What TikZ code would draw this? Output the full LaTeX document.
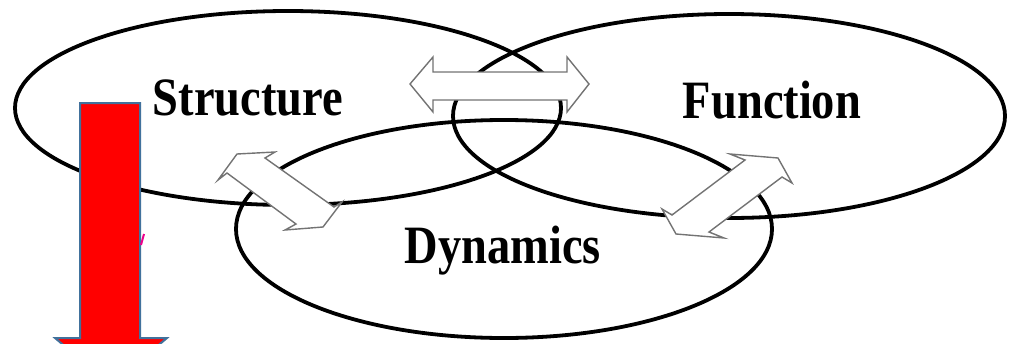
\documentclass[tikz,border=0pt]{standalone}
\usepackage{fontspec}
\setmainfont{Liberation Serif}
\usetikzlibrary{shapes.geometric}
\definecolor{edgeblue}{RGB}{65,113,156}
\definecolor{arrowgray}{RGB}{115,115,115}
\begin{document}
\begin{tikzpicture}[x=1pt,y=-1pt,
  ring/.style={draw=black, line width=3.8pt, ellipse, inner sep=0pt, outer sep=0pt},
  lbl/.style={font=\fontsize{54}{54}\selectfont\bfseries, anchor=base, inner sep=0pt, xscale=0.86},
  hollow/.style={draw=arrowgray, fill=white, line width=1.4pt, line join=miter},
  bar/.style={fill=red, draw=edgeblue, line width=2pt, line join=miter},
]
\useasboundingbox (0,0) rectangle (1009,343);
% three ellipses
\node[ring, minimum width=546pt, minimum height=194pt] (S) at (288,108) {};
\node[ring, minimum width=552pt, minimum height=204pt] (F) at (729,116) {};
\node[ring, minimum width=536pt, minimum height=218pt] (D) at (504,229) {};
% hollow double arrows
\draw[hollow] (410,84) -- (433,57) -- (433,72) -- (567,72) -- (567,57) -- (589,84)
  -- (567,112) -- (567,100) -- (433,100) -- (433,112) -- cycle;
\draw[hollow] (218,180) -- (237,154) -- (275,152) -- (265,158) -- (334,207) -- (342,202)
  -- (323,227) -- (285,230) -- (296,224) -- (227,173) -- cycle;
\draw[hollow] (745,160) -- (730,154) -- (778,158) -- (792,183) -- (782,177) -- (709,232)
  -- (724,238) -- (676,234) -- (662,209) -- (672,215) -- cycle;
% labels
\node[lbl] (ts) at (248,115) {Structure};
\node[lbl] (tf) at (772,118) {Function};
\node[lbl] (td) at (503,263) {Dynamics};
% red arrow
\begin{scope}
\clip (0,0) rectangle (1009,343);
\draw[bar] (80,103) -- (140,103) -- (140,338) -- (167,338) -- (111,385) -- (55,338) -- (80,338) -- cycle;
\end{scope}
\draw[magenta, line width=2pt] (141,245) -- (144,234);
\end{tikzpicture}
\end{document}
